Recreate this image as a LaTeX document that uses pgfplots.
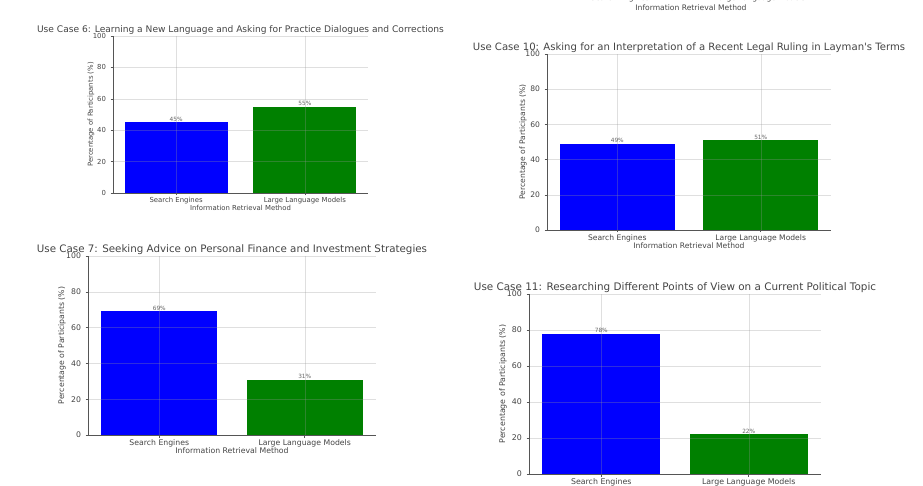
\documentclass[border=0pt]{standalone}
\usepackage{fontspec}
\setmainfont{DejaVu Sans}[Ligatures=TeXOff]
\usepackage{pgfplots}
\pgfplotsset{compat=1.18}
\definecolor{txt}{HTML}{444444}
\definecolor{spine}{HTML}{555555}
\pgfplotsset{
  uc/.style={
    scale only axis,
    ybar, bar width=0.8, bar shift=0pt,
    xmin=-0.49, xmax=1.49, ymin=0, ymax=100,
    ytick={0,20,40,60,80,100},
    xtick={0,1}, xticklabels={Search Engines, Large Language Models},
    axis x line*=bottom, axis y line*=left,
    axis on top,
    grid=major, grid style={color={rgb,255:red,150;green,150;blue,150}, opacity=0.3, line width=0.4pt},
    tick align=outside, major tick length=2.5pt,
    tick style={spine, line width=0.5pt},
    axis line style={spine, line width=0.7pt},
    /pgf/number format/assume math mode=true,
    every axis plot/.append style={draw=none},
    nodes near coords={\pgfmathprintnumber{\pgfplotspointmeta}\%},
    nodes near coords style={font=\fontsize{5.8}{6}\selectfont, text=black!60, anchor=south, inner sep=0.6pt},
    title style={anchor=base, at={(0.5,1)}, yshift=-2.5pt, text=txt},
    xticklabel style={anchor=center, yshift=-5.5pt, text=txt},
    yticklabel style={anchor=east, xshift=-1pt, text=txt},
    ylabel={Percentage of Participants (\%)},
    xlabel={Information Retrieval Method},
    label style={text=txt},
  }
}
\begin{document}
\begin{tikzpicture}
\useasboundingbox (0pt,0pt) rectangle (923pt,485pt);
\clip (0pt,0pt) rectangle (923pt,485pt);
% Partial chart cut at the top
\node[font=\fontsize{7.6}{8}\selectfont, text=txt] at (620pt,486.5pt) {Search Engines};
\node[font=\fontsize{7.6}{8}\selectfont, text=txt] at (760pt,486.5pt) {Large Language Models};
\node[font=\fontsize{7.6}{8}\selectfont, text=txt] at (691pt,477.5pt) {Information Retrieval Method};

% Use Case 6
\begin{axis}[uc, at={(113pt,292pt)}, anchor=south west, width=255pt, height=157pt,
  title={Use Case 6: Learning a New Language and Asking for Practice Dialogues and Corrections},
  title style={font=\fontsize{9.1}{10}\selectfont},
  tick label style={font=\fontsize{6.9}{7}\selectfont},
  label style={font=\fontsize{6.9}{7}\selectfont},
  xlabel style={at={(axis description cs:0.5,-0.0955)}, anchor=center},
  ylabel style={at={(axis description cs:-0.0863,0.5)}, anchor=center}]
\addplot[fill={rgb,255:red,0;green,0;blue,255}] coordinates {(0,45)};
\addplot[fill={rgb,255:red,0;green,128;blue,0}] coordinates {(1,55)};
\end{axis}

% Use Case 10
\begin{axis}[uc, at={(547pt,255pt)}, anchor=south west, width=284pt, height=176pt,
  title={Use Case 10: Asking for an Interpretation of a Recent Legal Ruling in Layman's Terms},
  title style={font=\fontsize{10.1}{11}\selectfont},
  tick label style={font=\fontsize{7.6}{8}\selectfont},
  label style={font=\fontsize{7.6}{8}\selectfont},
  xlabel style={at={(axis description cs:0.5,-0.091)}, anchor=center},
  ylabel style={at={(axis description cs:-0.0845,0.5)}, anchor=center}]
\addplot[fill={rgb,255:red,0;green,0;blue,255}] coordinates {(0,49)};
\addplot[fill={rgb,255:red,0;green,128;blue,0}] coordinates {(1,51)};
\end{axis}

% Use Case 7
\begin{axis}[uc, at={(88pt,50pt)}, anchor=south west, width=288pt, height=179pt,
  title={Use Case 7: Seeking Advice on Personal Finance and Investment Strategies},
  title style={font=\fontsize{10.3}{11}\selectfont},
  tick label style={font=\fontsize{7.75}{8}\selectfont},
  label style={font=\fontsize{7.75}{8}\selectfont},
  xlabel style={at={(axis description cs:0.5,-0.089)}, anchor=center},
  ylabel style={at={(axis description cs:-0.09,0.5)}, anchor=center}]
\addplot[fill={rgb,255:red,0;green,0;blue,255}] coordinates {(0,69)};
\addplot[fill={rgb,255:red,0;green,128;blue,0}] coordinates {(1,31)};
\end{axis}

% Use Case 11
\begin{axis}[uc, at={(529pt,11pt)}, anchor=south west, width=292pt, height=180pt,
  title={Use Case 11: Researching Different Points of View on a Current Political Topic},
  title style={font=\fontsize{10.4}{11}\selectfont},
  tick label style={font=\fontsize{7.85}{8}\selectfont},
  label style={font=\fontsize{7.85}{8}\selectfont},
  xlabel={},
  ylabel style={at={(axis description cs:-0.089,0.5)}, anchor=center}]
\addplot[fill={rgb,255:red,0;green,0;blue,255}] coordinates {(0,78)};
\addplot[fill={rgb,255:red,0;green,128;blue,0}] coordinates {(1,22)};
\end{axis}
\end{tikzpicture}
\end{document}
